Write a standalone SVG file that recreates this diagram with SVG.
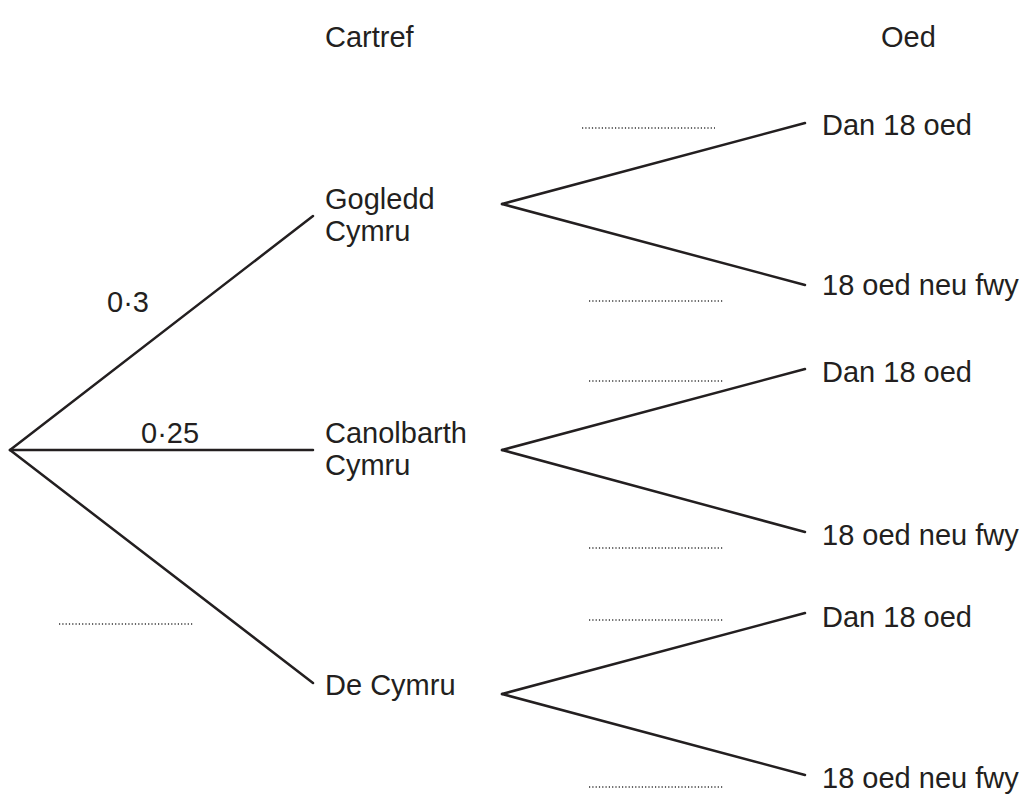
<svg xmlns="http://www.w3.org/2000/svg" width="1024" height="798" viewBox="0 0 1024 798">
<style>
text{font-family:"Liberation Sans",Arial,sans-serif;font-size:29px;fill:#231f20}
.br{stroke:#231f20;stroke-width:2.5;fill:none;stroke-linecap:round}
.dot{stroke:#333;stroke-width:1.4;stroke-dasharray:1.2 2.1;fill:none}
</style>
<rect width="1024" height="798" fill="#fff"/>
<g id="headers">
<text x="325" y="47">Cartref</text>
<text x="881" y="47">Oed</text>
</g>
<g id="connectors">
<line class="br" x1="10" y1="450" x2="313" y2="216"/>
<line class="br" x1="10" y1="450" x2="313" y2="450"/>
<line class="br" x1="10" y1="450" x2="313" y2="683"/>
<line class="br" x1="502" y1="204" x2="805" y2="123"/>
<line class="br" x1="502" y1="204" x2="805" y2="285"/>
<line class="br" x1="502" y1="450" x2="805" y2="369"/>
<line class="br" x1="502" y1="450" x2="805" y2="532"/>
<line class="br" x1="502" y1="694" x2="805" y2="613"/>
<line class="br" x1="502" y1="694" x2="805" y2="775"/>
</g>
<g id="branch-labels">
<text x="107" y="312">0·3</text>
<text x="141" y="443">0·25</text>
<line class="dot" x1="59" y1="624" x2="194" y2="624"/>
<line class="dot" x1="582" y1="128" x2="715" y2="128"/>
<line class="dot" x1="589" y1="301" x2="723" y2="301"/>
<line class="dot" x1="589" y1="381" x2="723" y2="381"/>
<line class="dot" x1="589" y1="548" x2="723" y2="548"/>
<line class="dot" x1="589" y1="620" x2="723" y2="620"/>
<line class="dot" x1="589" y1="787" x2="723" y2="787"/>
</g>
<g id="node-gogledd">
<text x="325" y="209">Gogledd</text>
<text x="325" y="241">Cymru</text>
</g>
<g id="node-canolbarth">
<text x="325" y="443">Canolbarth</text>
<text x="325" y="475">Cymru</text>
</g>
<g id="node-de">
<text x="325" y="695">De Cymru</text>
</g>
<g id="node-g-dan"><text x="822" y="135">Dan 18 oed</text></g>
<g id="node-g-18"><text x="822" y="295">18 oed neu fwy</text></g>
<g id="node-c-dan"><text x="822" y="382">Dan 18 oed</text></g>
<g id="node-c-18"><text x="822" y="545">18 oed neu fwy</text></g>
<g id="node-d-dan"><text x="822" y="627">Dan 18 oed</text></g>
<g id="node-d-18"><text x="822" y="788">18 oed neu fwy</text></g>
</svg>
